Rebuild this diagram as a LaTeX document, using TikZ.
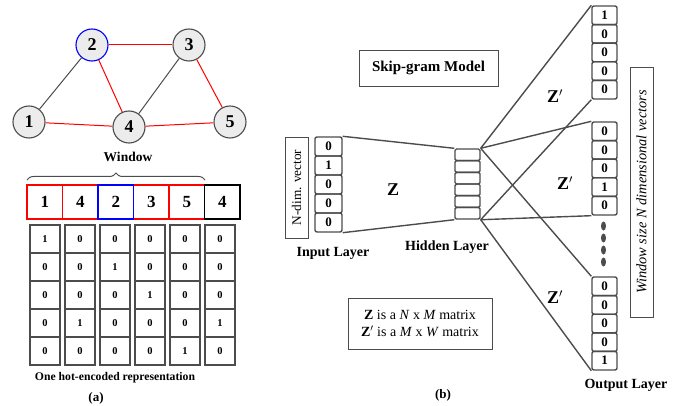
\documentclass[tikz,border=0pt]{standalone}
\usepackage{fontspec}
\setmainfont{Liberation Serif}
\usetikzlibrary{decorations.pathreplacing,shapes.geometric}
\begin{document}
\begin{tikzpicture}[x=1pt,y=-1pt,
  gnode/.style={circle,minimum size=32pt,inner sep=0pt,fill=gray!15,draw=gray!60!black,line width=1.1pt,font=\fontsize{18}{18}\selectfont\bfseries},
  redge/.style={red,line width=1pt},
  gedge/.style={gray!60!black,line width=1pt},
  wcell/.style={rectangle,minimum width=35.5pt,minimum height=34pt,inner sep=0pt,line width=1.4pt,font=\fontsize{17}{17}\selectfont\bfseries},
  hotcell/.style={rectangle,minimum width=30pt,minimum height=28pt,inner sep=0pt,draw=gray!60!black,line width=1.1pt,font=\fontsize{10.5}{10.5}\selectfont\bfseries},
  incell/.style={rectangle,rounded corners=2pt,minimum width=27pt,minimum height=19pt,inner sep=0pt,draw=gray!60!black,line width=1.4pt,font=\fontsize{13}{13}\selectfont\bfseries},
  hidcell/.style={rectangle,rounded corners=1.5pt,minimum width=25pt,minimum height=11.67pt,inner sep=0pt,draw=gray!60!black,line width=1.4pt},
  outcell/.style={rectangle,rounded corners=2pt,minimum width=25pt,minimum height=18.6pt,inner sep=0pt,draw=gray!60!black,line width=1.4pt,font=\fontsize{13}{13}\selectfont\bfseries},
  link/.style={gray!60!black,line width=1.4pt},
  lbl/.style={font=\fontsize{14}{14}\selectfont\bfseries,inner sep=0pt},
  zlbl/.style={font=\fontsize{18}{18}\selectfont\bfseries,inner sep=0pt},
  framed/.style={draw=gray!60!black,line width=0.9pt,inner sep=0pt},
]
\useasboundingbox (0,0) rectangle (682,406);

% ---------- (a) graph ----------
\node[gnode] (n1) at (29,122) {1};
\node[gnode,draw=blue] (n2) at (92,45) {2};
\node[gnode] (n3) at (189,45) {3};
\node[gnode] (n4) at (129,127) {4};
\node[gnode] (n5) at (230,122) {5};
\draw[redge] (n2) -- (n3);
\draw[redge] (n2) -- (n4);
\draw[redge] (n1) -- (n4);
\draw[redge] (n4) -- (n5);
\draw[redge] (n3) -- (n5);
\draw[gedge] (n1) -- (n2);
\draw[gedge] (n3) -- (n4);

% window brace
\coordinate (bl) at (27,180);
\coordinate (br) at (205,180);
\draw[decorate,decoration={brace,amplitude=7pt},gray!60!black,line width=1pt] (bl) -- (br);
\node[font=\fontsize{13.5}{13.5}\selectfont\bfseries,inner sep=0pt] (win) at (128,157) {Window};

% sequence row
\node[wcell,draw=red] (s1) at (44.75,202) {1};
\node[wcell,draw=red] (s2) at (80.25,202) {4};
\node[wcell,draw=red] (s4) at (151.25,202) {3};
\node[wcell,draw=red] (s5) at (186.75,202) {5};
\node[wcell,draw=blue] (s3) at (115.75,202) {2};
\node[wcell,draw=black,line width=1.8pt] (s6) at (222.25,202) {4};

% one-hot columns
\foreach \c/\x/\vals in {1/45/{1,0,0,0,0},2/80/{0,0,0,1,0},3/115/{0,1,0,0,0},4/150/{0,0,1,0,0},5/185/{0,0,0,0,1},6/220/{0,0,0,1,0}}{
  \foreach \v [count=\r] in \vals {
    \node[hotcell] (h\c r\r) at (\x,{211+28*\r}) {\v};
  }
}
\node[font=\fontsize{11.7}{11.7}\selectfont\bfseries,inner sep=0pt] (hotlbl) at (115,378) {One hot-encoded representation};
\node[font=\fontsize{13}{13}\selectfont\bfseries,inner sep=0pt] (capa) at (96,398) {(a)};

% ---------- (b) skip-gram ----------
\node[framed,minimum width=139pt,minimum height=36pt,font=\fontsize{15}{15}\selectfont\bfseries] (title) at (428.5,68) {Skip-gram Model};

\node[framed,rotate=90,minimum width=101pt,minimum height=23pt,font=\fontsize{13.3}{13.3}\selectfont] (ndim) at (296.5,187.5) {N-dim. vector};

\foreach \v [count=\r] in {0,1,0,0,0}{
  \node[incell] (in\r) at (328.5,{137+19*(\r-0.5)}) {\v};
}
\foreach \r in {1,...,6}{
  \node[hidcell] (hd\r) at (467.5,{149+11.67*(\r-0.5)}) {};
}
\foreach \v [count=\r] in {1,0,0,0,0}{
  \node[outcell] (oa\r) at (604.5,{6+18.6*(\r-0.5)}) {\v};
}
\foreach \v [count=\r] in {0,0,0,1,0}{
  \node[outcell] (ob\r) at (604.5,{122+18.6*(\r-0.5)}) {\v};
}
\foreach \v [count=\r] in {0,0,0,0,1}{
  \node[outcell] (oc\r) at (604.5,{277+18.6*(\r-0.5)}) {\v};
}
\foreach \y [count=\k] in {226,238,250,262}{
  \node[ellipse,fill=gray!60!black,minimum width=5pt,minimum height=9pt,inner sep=0pt] (dot\k) at (603.5,\y) {};
}

% weights
\draw[link] (in1.north east) -- (hd1.north west);
\draw[link] (in5.south east) -- (hd6.south west);
\draw[link] (hd1.north east) -- (oa1.north west);
\draw[link] (hd6.south east) -- (oa5.south west);
\draw[link] (hd1.north east) -- (ob1.north west);
\draw[link] (hd6.south east) -- (ob5.south west);
\draw[link] (hd1.north east) -- (oc1.north west);
\draw[link] (hd6.south east) -- (oc5.south west);

\node[zlbl] (zin) at (393,190) {Z};
\node[zlbl] (za) at (555,96) {Z$'$};
\node[zlbl] (zb) at (565,183) {Z$'$};
\node[zlbl] (zc) at (555,297) {Z$'$};

\node[lbl] (inlbl) at (333,253) {Input Layer};
\node[lbl] (hdlbl) at (447,247) {Hidden Layer};
\node[lbl] (outlbl) at (626,385) {Output Layer};

\node[framed,rotate=90,minimum width=250pt,minimum height=23pt,font=\fontsize{14.4}{14.4}\selectfont\itshape] (wsize) at (641.5,192) {Window size N dimensional vectors};

\node[framed,minimum width=144pt,minimum height=51pt,align=center,font=\fontsize{14}{17}\selectfont] (mats) at (420,323.5)
  {\textbf{Z} is a \textit{N} x \textit{M} matrix\\ \textbf{Z}$'$\ is a \textit{M} x \textit{W} matrix};

\node[font=\fontsize{13}{13}\selectfont\bfseries,inner sep=0pt] (capb) at (443,395) {(b)};
\end{tikzpicture}
\end{document}
